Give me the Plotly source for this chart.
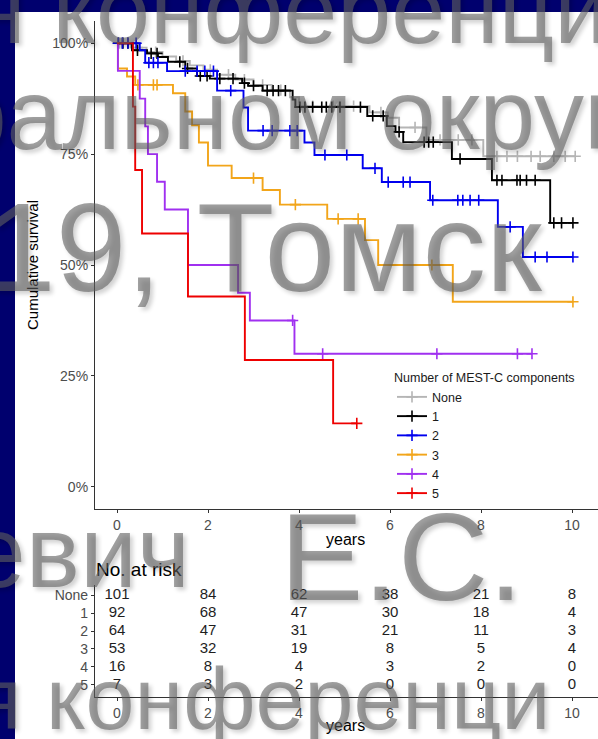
import numpy as np
import plotly.graph_objects as go

# ---------------- data ----------------
groups = ["None", "1", "2", "3", "4", "5"]
colors = ["#B5B5B5", "#000000", "#0000EE", "#F2A51A", "#A030F0", "#EE0000"]

# Kaplan-Meier steps: event times (years) and survival (%) after each event,
# plus censoring times
none_t = [0.3, 0.65, 1.0, 1.3, 1.6, 1.9, 2.2, 2.6, 3.0, 3.4, 3.8, 4.0, 5.55, 5.95, 6.2, 6.8, 8.05]
none_s = [99.0, 98.0, 97.0, 96.0, 95.0, 94.0, 92.9, 91.8, 90.6, 89.4, 87.8, 85.8, 84.4, 83.2, 81.0, 78.2, 74.5]
none_cens = [0.1, 0.45, 0.85, 1.45, 2.05, 2.45, 2.8, 3.2, 3.6, 4.3, 4.75, 5.2, 5.8, 6.55, 7.1,
             7.5, 7.8, 8.35, 8.57, 8.8, 9.1, 9.3, 9.6, 9.85, 10.07]

one_t = [0.33, 0.66, 0.9, 1.12, 1.5, 1.76, 2.04, 2.75, 2.88, 3.2, 3.86, 3.92, 5.5, 5.93, 6.12, 6.29, 7.36, 8.24, 9.52]
one_s = [98.4, 97.7, 96.9, 95.8, 94.3, 92.6, 92.0, 91.0, 90.4, 89.3, 87.3, 85.6, 83.6, 81.3, 80.0, 77.7, 73.9, 69.1, 59.5]
one_cens = [0.03, 0.13, 0.24, 0.45, 0.75, 0.88, 1.38, 1.55, 1.83, 1.98, 2.26, 2.55, 2.8, 3.0, 3.3,
            3.43, 3.55, 3.7, 4.02, 4.13, 4.3, 4.5, 4.6, 4.72, 4.9, 5.35, 5.62, 5.85, 6.2, 6.75,
            6.85, 6.95, 7.54, 8.35, 8.46, 8.79, 8.86, 9.0, 9.19, 9.6, 9.77, 10.02]

two_t = [0.5, 0.62, 1.1, 2.2, 2.78, 2.88, 4.12, 4.34, 5.4, 5.82, 6.88, 8.37, 8.92]
two_s = [98.4, 95.6, 93.7, 89.3, 85.5, 80.3, 77.6, 74.8, 71.8, 68.7, 64.6, 58.6, 51.8]
two_cens = [0.03, 0.12, 0.24, 0.42, 0.7, 0.8, 0.9, 1.5, 1.76, 1.93, 2.12, 2.5, 3.21, 3.41, 3.8,
            3.96, 4.57, 5.05, 5.67, 5.96, 6.29, 6.44, 6.94, 7.49, 7.6, 7.76, 7.95, 8.64, 9.19,
            9.45, 10.02]

three_t = [0.02, 0.22, 0.4, 1.23, 1.5, 1.65, 1.8, 2.0, 2.52, 3.2, 3.58, 4.62, 5.45, 5.74, 7.38]
three_s = [94.3, 92.5, 90.6, 88.7, 84.6, 81.5, 77.6, 72.4, 69.6, 66.9, 63.6, 60.4, 55.6, 50.0, 41.7]
three_cens = [0.46, 0.8, 0.88, 3.0, 3.92, 4.86, 5.3, 6.92, 10.02]

four_t = [0.02, 0.5, 0.62, 0.68, 0.88, 1.05, 1.56, 2.66, 2.92, 3.9]
four_s = [93.75, 87.5, 81.25, 75.0, 68.75, 62.5, 50.0, 43.75, 37.5, 30.0]
four_cens = [3.86, 4.52, 7.03, 8.8, 9.12]

five_t = [0.35, 0.4, 0.55, 1.56, 2.81, 4.75]
five_s = [85.7, 71.4, 57.1, 42.9, 28.6, 14.3]
five_cens = [5.27]

# number at risk table
risk_times = [0, 2, 4, 6, 8, 10]
risk_none = [101, 84, 62, 38, 21, 8]
risk_1 = [92, 68, 47, 30, 18, 4]
risk_2 = [64, 47, 31, 21, 11, 3]
risk_3 = [53, 32, 19, 8, 5, 4]
risk_4 = [16, 8, 4, 3, 2, 0]
risk_5 = [7, 3, 2, 0, 0, 0]

y_ticks = [0, 25, 50, 75, 100]
y_ticktext = ["0%", "25%", "50%", "75%", "100%"]
x_ticks = [0, 2, 4, 6, 8, 10]

curves = [
    (none_t, none_s, none_cens),
    (one_t, one_s, one_cens),
    (two_t, two_s, two_cens),
    (three_t, three_s, three_cens),
    (four_t, four_s, four_cens),
    (five_t, five_s, five_cens),
]
risk_rows = [risk_none, risk_1, risk_2, risk_3, risk_4, risk_5]

# ---------------- layout geometry ----------------
W, H = 598, 739
FONT = "Liberation Sans, Arial, sans-serif"
NAVY = "#00006E"


def px_x(p):
    return p / W


def px_y(p):
    return 1 - p / H


x_range = [-0.4835, 10.571]


def surv_at(t, ts, ss):
    i = int(np.searchsorted(np.asarray(ts), t, side="right"))
    return 100.0 if i == 0 else ss[i - 1]


fig = go.Figure()

for name, col, (ts, ss, cens) in zip(groups, colors, curves):
    t_end = max(ts + cens)
    xs = [0.0] + list(ts) + [t_end]
    ys = [100.0] + list(ss) + [ss[-1]]
    fig.add_trace(go.Scatter(
        x=xs, y=ys, mode="lines", line=dict(color=col, width=1.9, shape="hv"),
        showlegend=False, hoverinfo="skip", xaxis="x", yaxis="y"))
    fig.add_trace(go.Scatter(
        x=cens, y=[surv_at(c, ts, ss) for c in cens], mode="markers",
        marker=dict(symbol="cross-thin", size=8, line=dict(color=col, width=1.6)),
        showlegend=False, hoverinfo="skip", xaxis="x", yaxis="y"))

# legend keys
for name, col in zip(groups, colors):
    fig.add_trace(go.Scatter(
        x=[None], y=[None], mode="lines+markers", name=name,
        line=dict(color=col, width=1.9),
        marker=dict(symbol="cross-thin", size=8, line=dict(color=col, width=1.6)),
        xaxis="x", yaxis="y"))

# number-at-risk table
for row, counts in enumerate(risk_rows):
    fig.add_trace(go.Scatter(
        x=risk_times, y=[row] * len(risk_times), mode="text",
        text=[str(c) for c in counts], textposition="middle center",
        textfont=dict(family=FONT, size=15, color="#1e1e1e"),
        showlegend=False, hoverinfo="skip", xaxis="x2", yaxis="y2"))

axis_common = dict(showline=True, linecolor="#333333", linewidth=1.2, ticks="outside",
                   ticklen=3, tickcolor="#333333", showgrid=False, zeroline=False,
                   tickfont=dict(family=FONT, size=14, color="#4D4D4D"))

fig.update_layout(
    width=W, height=H,
    margin=dict(l=0, r=0, t=0, b=0),
    paper_bgcolor=NAVY, plot_bgcolor="rgba(0,0,0,0)",
    font=dict(family=FONT),
    xaxis=dict(domain=[px_x(95), 1.0], range=x_range, tickvals=x_ticks, anchor="y", **axis_common),
    yaxis=dict(domain=[px_y(509), px_y(21)], range=[-5, 105], tickvals=y_ticks,
               ticktext=y_ticktext, anchor="x", **axis_common),
    xaxis2=dict(domain=[px_x(95), 1.0], range=x_range, tickvals=x_ticks, anchor="y2", **axis_common),
    yaxis2=dict(domain=[px_y(697), px_y(585)], range=[5.68, -0.57], tickvals=list(range(6)),
                ticktext=groups, anchor="x2", **axis_common),
    legend=dict(
        title=dict(text="Number of MEST-C components", font=dict(family=FONT, size=12.5, color="#1A1A1A")),
        font=dict(family=FONT, size=12.5, color="#1A1A1A"),
        x=px_x(392), y=px_y(366), xanchor="left", yanchor="top",
        bgcolor="rgba(0,0,0,0)", tracegroupgap=0, itemwidth=30),
    shapes=[dict(type="rect", xref="paper", yref="paper", x0=px_x(15), x1=1.0,
                 y0=0, y1=px_y(12), fillcolor="white", line=dict(width=0), layer="below")],
)

annotations = [
    dict(text="Cumulative survival", x=px_x(32), y=px_y(265), textangle=-90,
         font=dict(family=FONT, size=15, color="#000000")),
    dict(text="years", x=px_x(346), y=px_y(539), font=dict(family=FONT, size=16, color="#000000")),
    dict(text="No. at risk", x=px_x(94), y=px_y(569), xanchor="left",
         font=dict(family=FONT, size=19, color="#000000")),
    dict(text="years", x=px_x(346), y=px_y(725), font=dict(family=FONT, size=16, color="#000000")),
]
for a in annotations:
    a.setdefault("xanchor", "center")
    a.update(xref="paper", yref="paper", yanchor="middle", showarrow=False)

# large slide lettering laid over the figure: (text, size, left x, baseline y)
overlay_text = [
    ("н конференци", 97, -29, 44),
    ("ральном округ", 100, -50, 150),
    ("19, Томск", 127, -16, 292),
    ("евич", 102, -32, 588),
    ("Е.С.", 125, 279, 600),
    ("я конференци", 88, -27, 730),
]
for txt, size, left, base in overlay_text:
    annotations.append(dict(
        text=txt, xref="paper", yref="paper", x=px_x(left - 1),
        y=px_y(base + 0.212 * size + 1), xanchor="left", yanchor="bottom", showarrow=False,
        font=dict(family=FONT, size=size, color="rgba(96,96,96,0.6)",
                  shadow="3px 3px 4px rgba(0,0,0,0.3)")))

fig.update_layout(annotations=annotations)

fig.write_html("out.html")
